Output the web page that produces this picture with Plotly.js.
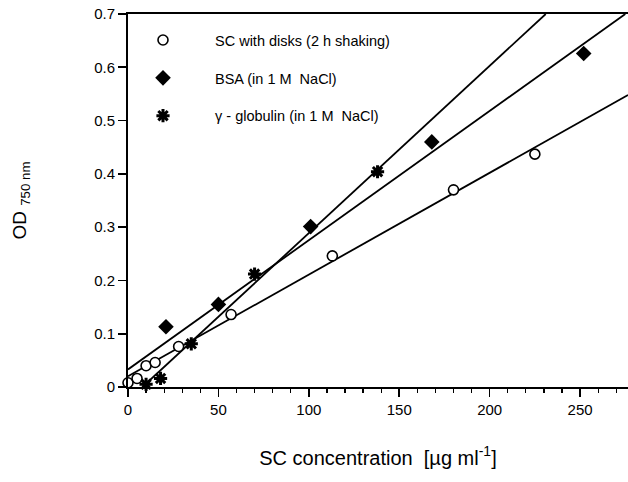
<!DOCTYPE html>
<html>
<head>
<meta charset="utf-8">
<script src="https://cdn.plot.ly/plotly-3.0.1.min.js"></script>
<style>html,body{margin:0;padding:0;background:#fff;}#chart{width:628px;height:482px;}</style>
</head>
<body>
<div id="chart"></div>
<script>
// SC with disks (2 h shaking) — open circles
const scX = [0, 5, 10, 15, 28, 57, 113, 180, 225];
const scY = [0.008, 0.016, 0.040, 0.046, 0.076, 0.136, 0.246, 0.370, 0.437];
// BSA (in 1 M NaCl) — filled diamonds
const bsaX = [21, 50, 101, 168, 252];
const bsaY = [0.113, 0.155, 0.301, 0.460, 0.626];
// gamma-globulin (in 1 M NaCl) — stars
const gamX = [10, 18, 35, 70, 138];
const gamY = [0.005, 0.016, 0.081, 0.212, 0.404];
// regression lines as drawn (end points)
const scFitX = [0, 276.5];
const scFitY = [0.020, 0.548];
const bsaFitX = [0, 275];
const bsaFitY = [0.033, 0.700];
const gamFitX = [8, 231];
const gamFitY = [0.000, 0.700];

const seriesNames = ["SC with disks (2 h shaking)", "BSA (in 1 M  NaCl)", "\u03b3 - globulin (in 1 M  NaCl)"];
const xTicks = [0, 50, 100, 150, 200, 250];
const yTicks = [0, 0.1, 0.2, 0.3, 0.4, 0.5, 0.6, 0.7];

const lineStyle = {color: '#000', width: 1.8};
const traces = [
  {x: scFitX, y: scFitY, mode: 'lines', line: lineStyle, showlegend: false, hoverinfo: 'skip'},
  {x: bsaFitX, y: bsaFitY, mode: 'lines', line: lineStyle, showlegend: false, hoverinfo: 'skip'},
  {x: gamFitX, y: gamFitY, mode: 'lines', line: lineStyle, showlegend: false, hoverinfo: 'skip'},
  {x: scX, y: scY, mode: 'markers', name: seriesNames[0], legendgroup: 'a', cliponaxis: false,
   marker: {symbol: 'circle', size: 10, color: '#fff', line: {color: '#000', width: 1.6}}},
  {x: bsaX, y: bsaY, mode: 'markers', name: seriesNames[1], legendgroup: 'b', cliponaxis: false,
   marker: {symbol: 'diamond', size: 12, color: '#000', line: {color: '#000', width: 0}}},
  {x: gamX, y: gamY, mode: 'markers', name: seriesNames[2], legendgroup: 'c', cliponaxis: false,
   marker: {symbol: 'asterisk-open', size: 11, color: '#000', line: {color: '#000', width: 3}}}
];

const layout = {
  width: 628, height: 482,
  margin: {l: 128, r: 0, t: 14, b: 95, pad: 0},
  paper_bgcolor: '#fff', plot_bgcolor: '#fff',
  font: {family: '"Liberation Sans", Arial, sans-serif', color: '#000', size: 15},
  showlegend: true,
  legend: {x: -0.034, xanchor: 'left', y: 0.973, yanchor: 'top', bgcolor: 'rgba(0,0,0,0)',
           font: {size: 14.5, color: '#000'}, itemwidth: 94, tracegroupgap: 16, traceorder: 'grouped'},
  xaxis: {
    range: [0, 276.5], tickvals: xTicks, ticktext: xTicks.map(String),
    showgrid: false, zeroline: false, showline: true, linecolor: '#000', linewidth: 1.6, mirror: true,
    ticks: 'outside', ticklen: 8, tickwidth: 1.6, tickcolor: '#000',
    minor: {dtick: 10, ticks: 'outside', ticklen: 4, tickwidth: 1.2, tickcolor: '#000', showgrid: false},
    tickfont: {size: 15},
    title: {text: 'SC concentration  [\u00b5g ml<sup>-1</sup>]', font: {size: 20}, standoff: 34}
  },
  yaxis: {
    range: [0, 0.7], tickvals: yTicks, ticktext: yTicks.map(v => v === 0 ? '0' : v.toFixed(1)),
    showgrid: false, zeroline: false, showline: true, linecolor: '#000', linewidth: 2,
    ticks: 'outside', ticklen: 8, tickwidth: 1.6, tickcolor: '#000',
    tickfont: {size: 15},
    title: {text: 'OD <sub>750 nm</sub>', font: {size: 19}, standoff: 62}
  }
};

Plotly.newPlot('chart', traces, layout, {displayModeBar: false, staticPlot: true});
</script>
</body>
</html>
